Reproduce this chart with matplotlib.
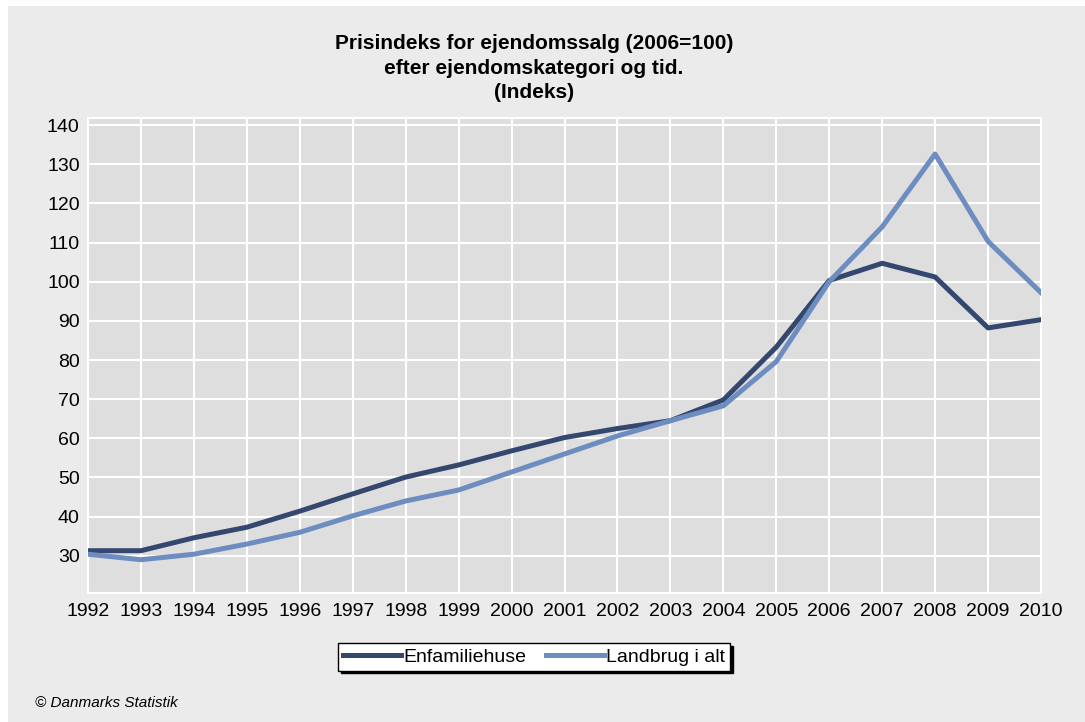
import matplotlib
matplotlib.use("Agg")
import matplotlib.pyplot as plt
from matplotlib.patches import Rectangle

# Data
years = list(range(1992, 2011))
enfamiliehuse = [31.3, 31.3, 34.6, 37.3, 41.4, 45.8, 50.1, 53.2, 56.8, 60.2,
                 62.5, 64.5, 69.8, 83.3, 100.3, 104.7, 101.2, 88.2, 90.3]
landbrug = [30.4, 29.0, 30.4, 33.0, 36.0, 40.2, 44.0, 46.8, 51.4, 56.0,
            60.6, 64.5, 68.3, 79.6, 100.0, 114.0, 132.6, 110.3, 97.2]
series_names = ["Enfamiliehuse", "Landbrug i alt"]
y_ticks = list(range(30, 150, 10))

plt.rcParams['font.family'] = ['Liberation Sans', 'DejaVu Sans']

W, H = 1085, 722
fig = plt.figure(figsize=(W / 100, H / 100), dpi=100, facecolor='white')

# gray panel behind everything (small white margin top/left as in the source)
fig.patches.append(Rectangle((8 / W, 0), 1 - 8 / W, 1 - 6 / H,
                             transform=fig.transFigure, facecolor='#ebebeb',
                             edgecolor='none', zorder=-10))

ax = fig.add_axes([88 / W, 1 - 593 / H, (1041 - 88) / W, (593 - 118) / H])
ax.set_facecolor('#dedede')

ax.plot(years, enfamiliehuse, color='#34486f', lw=3.6,
        solid_joinstyle='round', label=series_names[0], zorder=3)
ax.plot(years, landbrug, color='#6d8dc0', lw=3.6,
        solid_joinstyle='round', label=series_names[1], zorder=3)

ax.set_xlim(1992, 2010)
ax.set_ylim(20.5, 141.8)
ax.set_xticks(years)
ax.set_yticks(y_ticks)
ax.grid(True, color='white', lw=1.5, zorder=0)
ax.set_axisbelow(True)
ax.tick_params(length=0, labelsize=14, pad=6)
ax.tick_params(axis='x', pad=7)
for s in ax.spines.values():
    s.set_color('white')
    s.set_linewidth(1.5)

fig.text(534 / W, 1 - 68 / H, "Prisindeks for ejendomssalg (2006=100)\n"
         "efter ejendomskategori og tid.\n(Indeks)",
         ha='center', va='center', fontsize=15, fontweight='bold',
         linespacing=1.35)

leg = fig.legend(loc='center', bbox_to_anchor=(534 / W, 1 - 657 / H),
                 ncol=2, fontsize=14, frameon=True, fancybox=False,
                 shadow={'color': 'black', 'alpha': 1}, handlelength=3.0,
                 handletextpad=0.1, columnspacing=1.0, borderpad=0.25,
                 borderaxespad=0)
leg.get_frame().set_edgecolor('black')
leg.get_frame().set_linewidth(1.0)

fig.text(35 / W, 1 - 703 / H, "© Danmarks Statistik", fontsize=11,
         style='italic', ha='left', va='center')

fig.savefig("out.png", dpi=100, facecolor=fig.get_facecolor())
